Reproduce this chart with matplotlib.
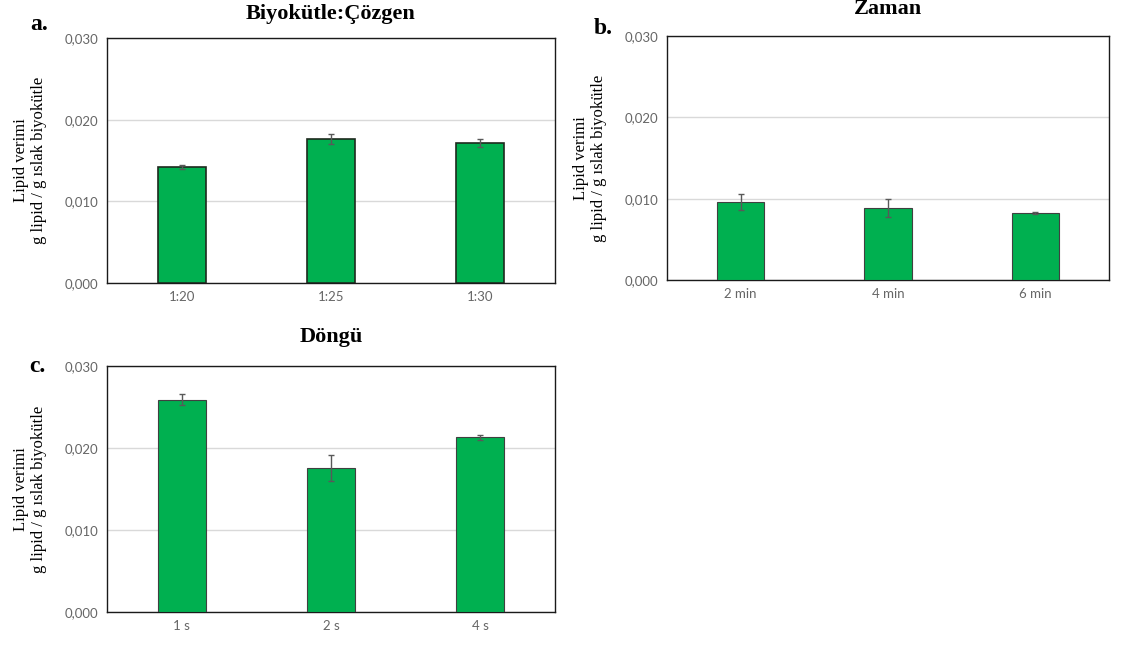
import matplotlib
matplotlib.use("Agg")
import matplotlib.pyplot as plt
from matplotlib.ticker import FuncFormatter, MultipleLocator

# data
cats_a = ["1:20", "1:25", "1:30"]
vals_a = [0.0142, 0.0176, 0.0171]
err_a = [0.0002, 0.0006, 0.0005]

cats_b = ["2 min", "4 min", "6 min"]
vals_b = [0.0096, 0.0088, 0.0082]
err_b = [0.0010, 0.0011, 0.0001]

cats_c = ["1 s", "2 s", "4 s"]
vals_c = [0.0259, 0.0176, 0.0213]
err_c = [0.0007, 0.0016, 0.0003]

titles = ["Biyokütle:Çözgen", "Zaman", "Döngü"]
letters = ["a.", "b.", "c."]
ylab = "Lipid verimi\ng lipid / g ıslak biyokütle"

green = "#00b050"
serif = ["Liberation Serif", "DejaVu Serif"]
sans = ["Lato", "DejaVu Sans"]

fig = plt.figure(figsize=(11.23, 6.46), dpi=100)
W, H = 1123.0, 646.0


def px_axes(l, t, r, b):
    return fig.add_axes([l / W, 1 - b / H, (r - l) / W, (b - t) / H])


def panel(ax, cats, vals, errs, title, letter, edge, elw, lab_x, letter_xy, title_dy):
    x = range(len(cats))
    ax.bar(x, vals, width=0.32, color=green, edgecolor=edge, linewidth=elw, zorder=3)
    ax.errorbar(x, vals, yerr=errs, fmt="none", ecolor="#595959", elinewidth=1,
                capsize=2.5, capthick=1, zorder=4)
    ax.set_xlim(-0.5, len(cats) - 0.5)
    ax.set_ylim(0, 0.030)
    ax.yaxis.set_major_locator(MultipleLocator(0.010))
    ax.yaxis.set_major_formatter(FuncFormatter(lambda v, p: ("%.3f" % v).replace(".", ",")))
    ax.set_xticks(list(x))
    ax.set_xticklabels(cats)
    ax.tick_params(length=0, labelsize=9.5, labelcolor="#666666", pad=6)
    for lbl in ax.get_xticklabels() + ax.get_yticklabels():
        lbl.set_family(sans)
    ax.grid(axis="y", color="#d9d9d9", linewidth=1, zorder=0)
    for s in ax.spines.values():
        s.set_color("#1a1a1a")
        s.set_linewidth(1.0)
    pos = ax.get_position()
    cx = (pos.x0 + pos.x1) / 2
    fig.text(cx, pos.y1 + title_dy / H, title, ha="center", va="center",
             family=serif, fontsize=16, fontweight="bold")
    fig.text(letter_xy[0] / W, 1 - letter_xy[1] / H, letter, ha="left", va="center",
             family=serif, fontsize=17, fontweight="bold")
    fig.text(lab_x / W, (pos.y0 + pos.y1) / 2, ylab, rotation=90, ha="center",
             va="center", multialignment="center", family=serif, fontsize=12,
             linespacing=1.2)


ax1 = px_axes(107, 38, 555, 283)
panel(ax1, cats_a, vals_a, err_a, titles[0], letters[0], "#1e2a1e", 1.2, 30, (30, 25), 24)

ax2 = px_axes(667, 36, 1109, 280)
panel(ax2, cats_b, vals_b, err_b, titles[1], letters[1], "#404040", 0.8, 590, (594, 28), 27)

ax3 = px_axes(107, 366, 555, 612)
panel(ax3, cats_c, vals_c, err_c, titles[2], letters[2], "#404040", 0.8, 30, (29, 366), 29)

fig.savefig("out.png", dpi=100)
